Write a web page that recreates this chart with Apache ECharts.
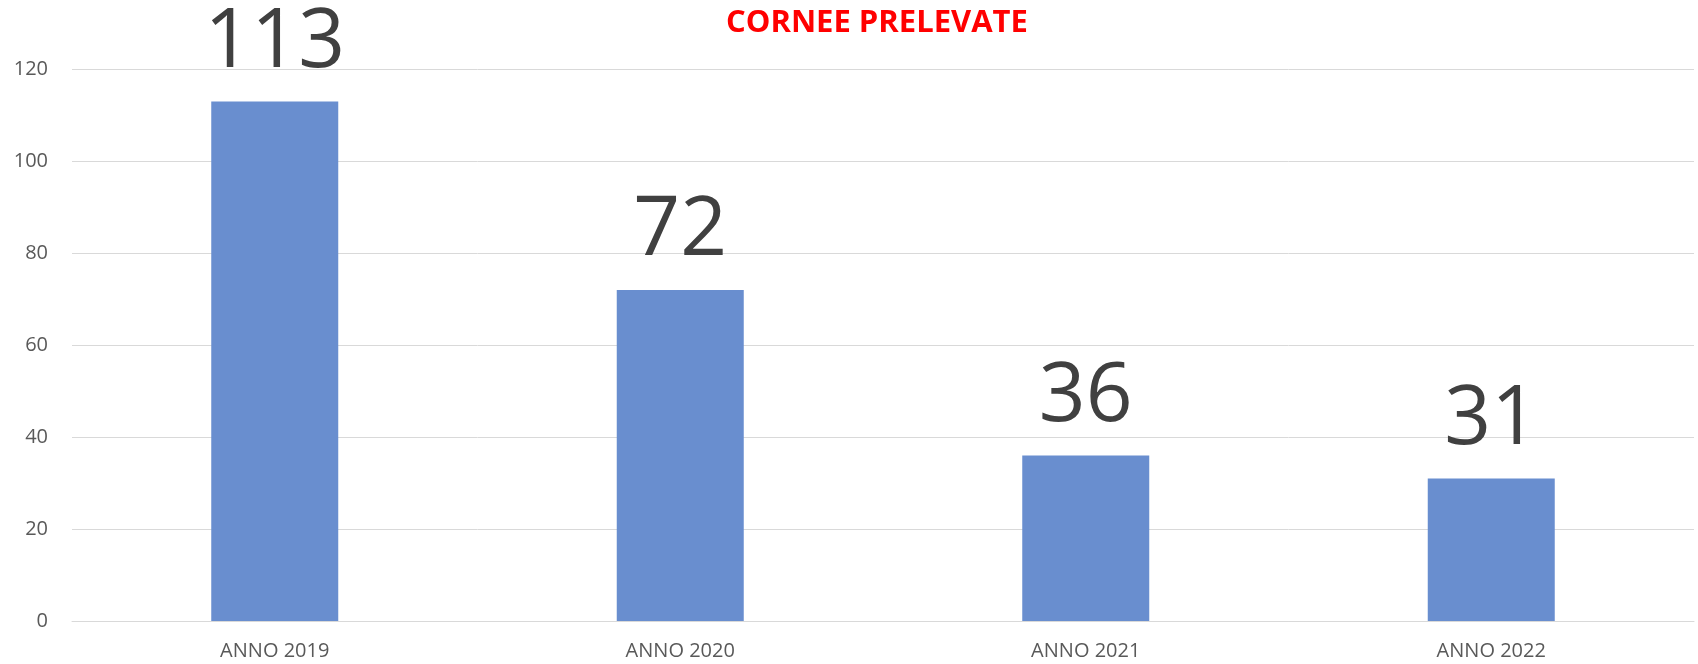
<!DOCTYPE html>
<html>
<head>
<meta charset="utf-8">
<script src="https://cdn.jsdelivr.net/npm/echarts@6/dist/echarts.min.js"></script>
<style>
html,body{margin:0;padding:0;background:#fff;}
#chart{width:1698px;height:664px;}
</style>
</head>
<body>
<div id="chart"></div>
<script>
const categories = ['ANNO 2019', 'ANNO 2020', 'ANNO 2021', 'ANNO 2022'];
const values = [113, 72, 36, 31];
const titleText = 'CORNEE PRELEVATE';

const chart = echarts.init(document.getElementById('chart'));
chart.setOption({
  animation: false,
  title: {
    text: titleText,
    left: 721,
    top: 3,
    textStyle: { color: '#FF0000', fontFamily: 'Open Sans', fontWeight: 'bold', fontSize: 31 }
  },
  grid: { left: 72, right: 4, top: 69.3, bottom: 43, containLabel: false },
  xAxis: {
    type: 'category',
    data: categories,
    axisLine: { show: true, lineStyle: { color: '#d9d9d9', width: 1 } },
    axisTick: { show: false },
    axisLabel: { color: '#595959', fontFamily: 'Open Sans', fontSize: 20, margin: 20 }
  },
  yAxis: {
    type: 'value',
    min: 0, max: 120, interval: 20,
    axisLine: { show: false },
    axisTick: { show: false },
    splitLine: { lineStyle: { color: '#d9d9d9', width: 1 } },
    axisLabel: { color: '#595959', fontFamily: 'Open Sans', fontSize: 20, margin: 24 }
  },
  series: [{
    type: 'bar',
    data: values,
    barWidth: 127,
    itemStyle: { color: '#698ECF' },
    label: {
      show: true,
      position: 'top',
      distance: 17,
      color: '#404040',
      fontFamily: 'Open Sans',
      fontSize: 82
    }
  }]
});
</script>
</body>
</html>
